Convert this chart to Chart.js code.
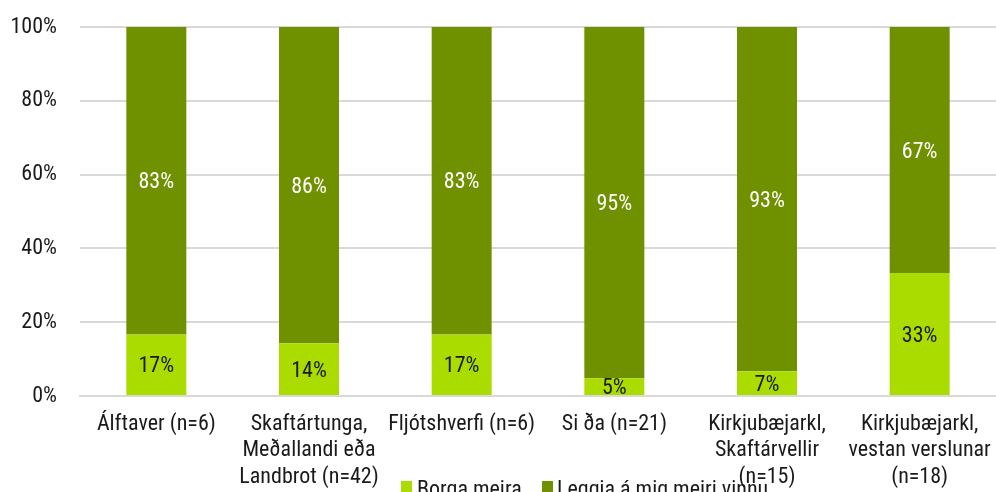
<!DOCTYPE html>
<html>
<head>
<meta charset="utf-8">
<script src="https://cdn.jsdelivr.net/npm/chart.js@4/dist/chart.umd.min.js"></script>
<style>
html,body{margin:0;padding:0;background:#fff;}
#wrap{width:996px;height:492px;position:relative;overflow:hidden;}
</style>
</head>
<body>
<div id="wrap"><canvas id="c" width="996" height="492"></canvas></div>
<script>
const categories = [
  "Álftaver (n=6)",
  ["Skaftártunga,", "Meðallandi eða", "Landbrot (n=42)"],
  "Fljótshverfi (n=6)",
  "Si ða (n=21)",
  ["Kirkjubæjarkl,", "Skaftárvellir", "(n=15)"],
  ["Kirkjubæjarkl,", "vestan verslunar", "(n=18)"]
];
const seriesNames = ["Borga meira", "Leggja á mig meiri vinnu"];
const borgaMeira = [16.7, 14.3, 16.7, 4.8, 6.7, 33.3];
const leggjaMeiriVinnu = [83.3, 85.7, 83.3, 95.2, 93.3, 66.7];
const yTicks = [0, 20, 40, 60, 80, 100];

const FONT = "'Roboto Condensed', 'Liberation Sans', sans-serif";
const LIGHT = '#aadc00';
const DARK = '#6f9100';

const labelPlugin = {
  id: 'barLabels',
  afterDatasetsDraw(chart) {
    const ctx = chart.ctx;
    ctx.save();
    ctx.font = '22px ' + FONT;
    ctx.textAlign = 'center';
    ctx.textBaseline = 'middle';
    chart.data.datasets.forEach((ds, di) => {
      const meta = chart.getDatasetMeta(di);
      meta.data.forEach((bar, i) => {
        const v = ds.data[i];
        const y = (bar.y + bar.base) / 2;
        ctx.fillStyle = di === 0 ? '#1a1a1a' : '#ffffff';
        ctx.fillText(Math.round(v) + '%', bar.x, y + 2);
      });
    });
    ctx.restore();
  }
};

const legendPlugin = {
  id: 'customLegend',
  afterDraw(chart) {
    const ctx = chart.ctx;
    ctx.save();
    ctx.font = '22px ' + FONT;
    ctx.textAlign = 'left';
    ctx.textBaseline = 'alphabetic';
    const items = [
      {box: 401, text: 417, color: LIGHT},
      {box: 542, text: 557, color: DARK}
    ];
    items.forEach((it, i) => {
      ctx.fillStyle = it.color;
      ctx.fillRect(it.box, 481, 11, 11);
      ctx.fillStyle = '#1a1a1a';
      ctx.fillText(chart.data.datasets[i].label, it.text, 496);
    });
    ctx.restore();
  }
};

new Chart(document.getElementById('c'), {
  type: 'bar',
  data: {
    labels: categories,
    datasets: [
      {label: seriesNames[0], data: borgaMeira, backgroundColor: LIGHT, barPercentage: 0.393, categoryPercentage: 1},
      {label: seriesNames[1], data: leggjaMeiriVinnu, backgroundColor: DARK, barPercentage: 0.393, categoryPercentage: 1}
    ]
  },
  options: {
    responsive: false,
    animation: false,
    devicePixelRatio: 1,
    layout: {padding: {top: 27, right: 0, left: 0, bottom: 0}},
    plugins: {legend: {display: false}, tooltip: {enabled: false}},
    scales: {
      x: {
        stacked: true,
        grid: {display: false, drawTicks: false},
        border: {display: true, color: '#d9d9d9', width: 2},
        ticks: {
          font: {family: FONT, size: 22, lineHeight: 1.2},
          color: '#1a1a1a',
          padding: 15,
          maxRotation: 0,
          autoSkip: false
        },
        afterFit(scale) {
          scale.height = 96;
          scale.paddingLeft = 0; scale.paddingRight = 0;
        }
      },
      y: {
        stacked: true,
        min: 0, max: 100,
        afterBuildTicks(scale) { scale.ticks = yTicks.map(v => ({value: v})); },
        grid: {color: '#d9d9d9', lineWidth: 2, drawTicks: false},
        border: {display: false},
        ticks: {
          font: {family: FONT, size: 22},
          color: '#1a1a1a',
          padding: 23,
          callback: v => v + '%'
        },
        afterFit(scale) {
          scale.width = 80;
          scale.paddingTop = 0; scale.paddingBottom = 0;
        }
      }
    }
  },
  plugins: [labelPlugin, legendPlugin]
});
</script>
</body>
</html>
